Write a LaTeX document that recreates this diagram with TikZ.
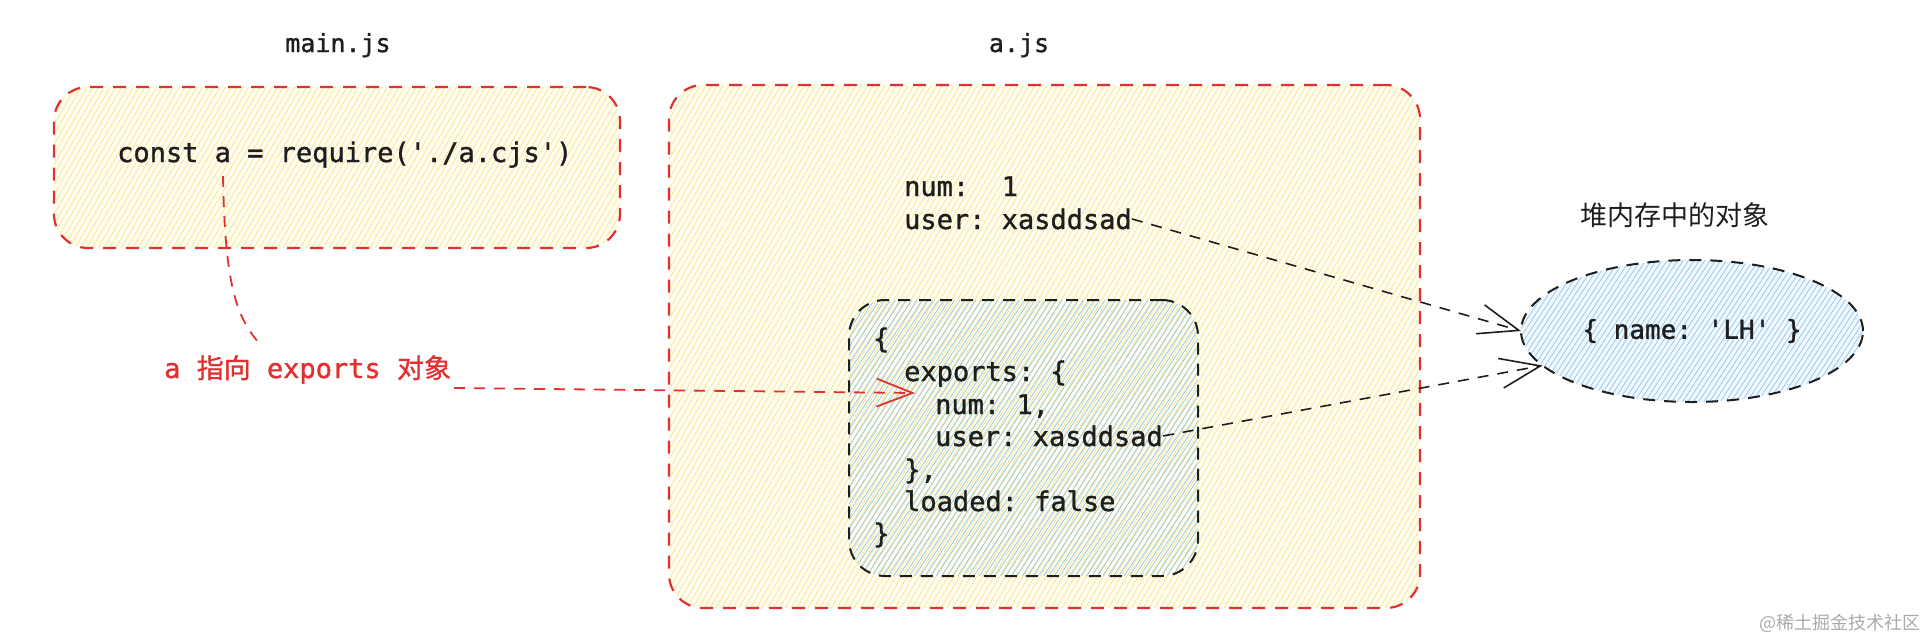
\documentclass[tikz,border=0pt]{standalone}
\usepackage{fontspec}
\setmonofont[FakeBold=1.2]{DejaVu Sans Mono}
\newfontfamily\cjk{Noto Sans CJK SC}
\newfontfamily\cjkmed{Noto Sans CJK SC}[FakeBold=1.0]
\usetikzlibrary{patterns.meta,shapes.geometric,arrows.meta,calc}
\definecolor{ink}{HTML}{1E1E1E}
\definecolor{redline}{HTML}{E03131}
\definecolor{hatchY}{HTML}{F7E48A}
\definecolor{paleY}{HTML}{FFFDF0}
\definecolor{hatchB}{HTML}{8CC6F0}
\definecolor{paleB}{HTML}{F2F8FD}
\definecolor{wmark}{HTML}{AAAAAA}
\tikzset{
  codetext/.style={font=\fontsize{27}{32}\selectfont\ttfamily, text=ink, inner sep=0pt, anchor=base west},
  titletext/.style={font=\fontsize{25}{30}\selectfont\ttfamily, text=ink, inner sep=0pt, anchor=base},
  redbox/.style={draw=redline, line width=2.2pt, dash pattern=on 13pt off 10pt, rounded corners=34pt,
    anchor=north west, inner sep=0pt, outer sep=0pt,
    preaction={fill=paleY},
    preaction={pattern={Lines[angle=60,distance=5pt,line width=0.7pt]}, pattern color=hatchY}},
  blackbox/.style={draw=ink, line width=2pt, dash pattern=on 12pt off 9pt, rounded corners=36pt,
    anchor=north west, inner sep=0pt, outer sep=0pt,
    preaction={pattern={Lines[angle=57,distance=4.5pt,line width=0.7pt]}, pattern color=hatchB}},
  blobshape/.style={ellipse, draw=ink, line width=2pt, dash pattern=on 12pt off 9pt,
    inner sep=0pt, outer sep=0pt,
    preaction={fill=paleB},
    preaction={pattern={Lines[angle=57,distance=4.5pt,line width=0.7pt]}, pattern color=hatchB}},
  conn/.style={draw=ink, line width=1.6pt, dash pattern=on 11pt off 9pt,
    -{Straight Barb[length=40pt,width=30pt,line width=1.6pt]}},
  redconn/.style={draw=redline, line width=1.8pt, dash pattern=on 11pt off 9pt},
}
\begin{document}
\begin{tikzpicture}[x=1pt,y=-1pt]
\useasboundingbox (0,0) rectangle (1931,638);

% titles
\node[titletext] (tmain) at (338,52) {main.js};
\node[titletext] (taj) at (1019,52) {a.js};

% boxes
\node[redbox, minimum width=566pt, minimum height=161pt] (mainbox) at (54,87) {};
\node[redbox, minimum width=751pt, minimum height=523pt] (ajbox) at (669,85) {};
\node[blackbox, minimum width=349pt, minimum height=276pt] (inner) at (849,300) {};

% main.js code
\node[codetext] (code) at (117,162) {const a = require('./a.cjs')};

% a.js top
\node[codetext] (num) at (904,196) {num:\ \ 1};
\node[codetext] (user) at (904,229) {user: xasddsad};

% module object
\node[codetext] (l1) at (873,348) {\{};
\node[codetext] (l2) at (904,381) {exports: \{};
\node[codetext] (l3) at (935,414) {num: 1,};
\node[codetext] (iuser) at (935,446) {user: xasddsad};
\node[codetext] (l5) at (904,479) {\},};
\node[codetext] (l6) at (904,511) {loaded: false};
\node[codetext] (l7) at (873,543) {\}};

% heap object
\node[font=\cjk\fontsize{27}{30}\selectfont, text=ink, inner sep=0pt] (heap) at (1675,215) {堆内存中的对象};
\node[blobshape, minimum width=342pt, minimum height=142pt,
      font=\fontsize{26}{30}\selectfont\ttfamily, text=ink] (ell) at (1692,331) {\{ name: 'LH' \}};

% red label
\node[font=\fontsize{27}{32}\selectfont\ttfamily, text=redline, anchor=base west, inner sep=0pt]
  (lab) at (164,378) {a {\cjkmed 指向} exports {\cjkmed 对象}};

% connectors
\coordinate (aref) at (223,176);
\coordinate (aend) at (258,342);
\draw[redconn] (aref) .. controls (225,285) and (236,315) .. (aend);
\coordinate (rstart) at (454,388);
\coordinate (rtip) at (915,393);
\draw[redconn, -{Straight Barb[length=36pt,width=28pt,line width=1.8pt]}] (rstart) -- (rtip);

\draw[conn] (user.east) -- (ell.west);
\draw[conn] (iuser.east) -- (ell.193);

% watermark
\node[font=\cjk\fontsize{18}{20}\selectfont, text=wmark, anchor=east, inner sep=0pt] (wm) at (1921,623) {@稀土掘金技术社区};
\end{tikzpicture}
\end{document}
